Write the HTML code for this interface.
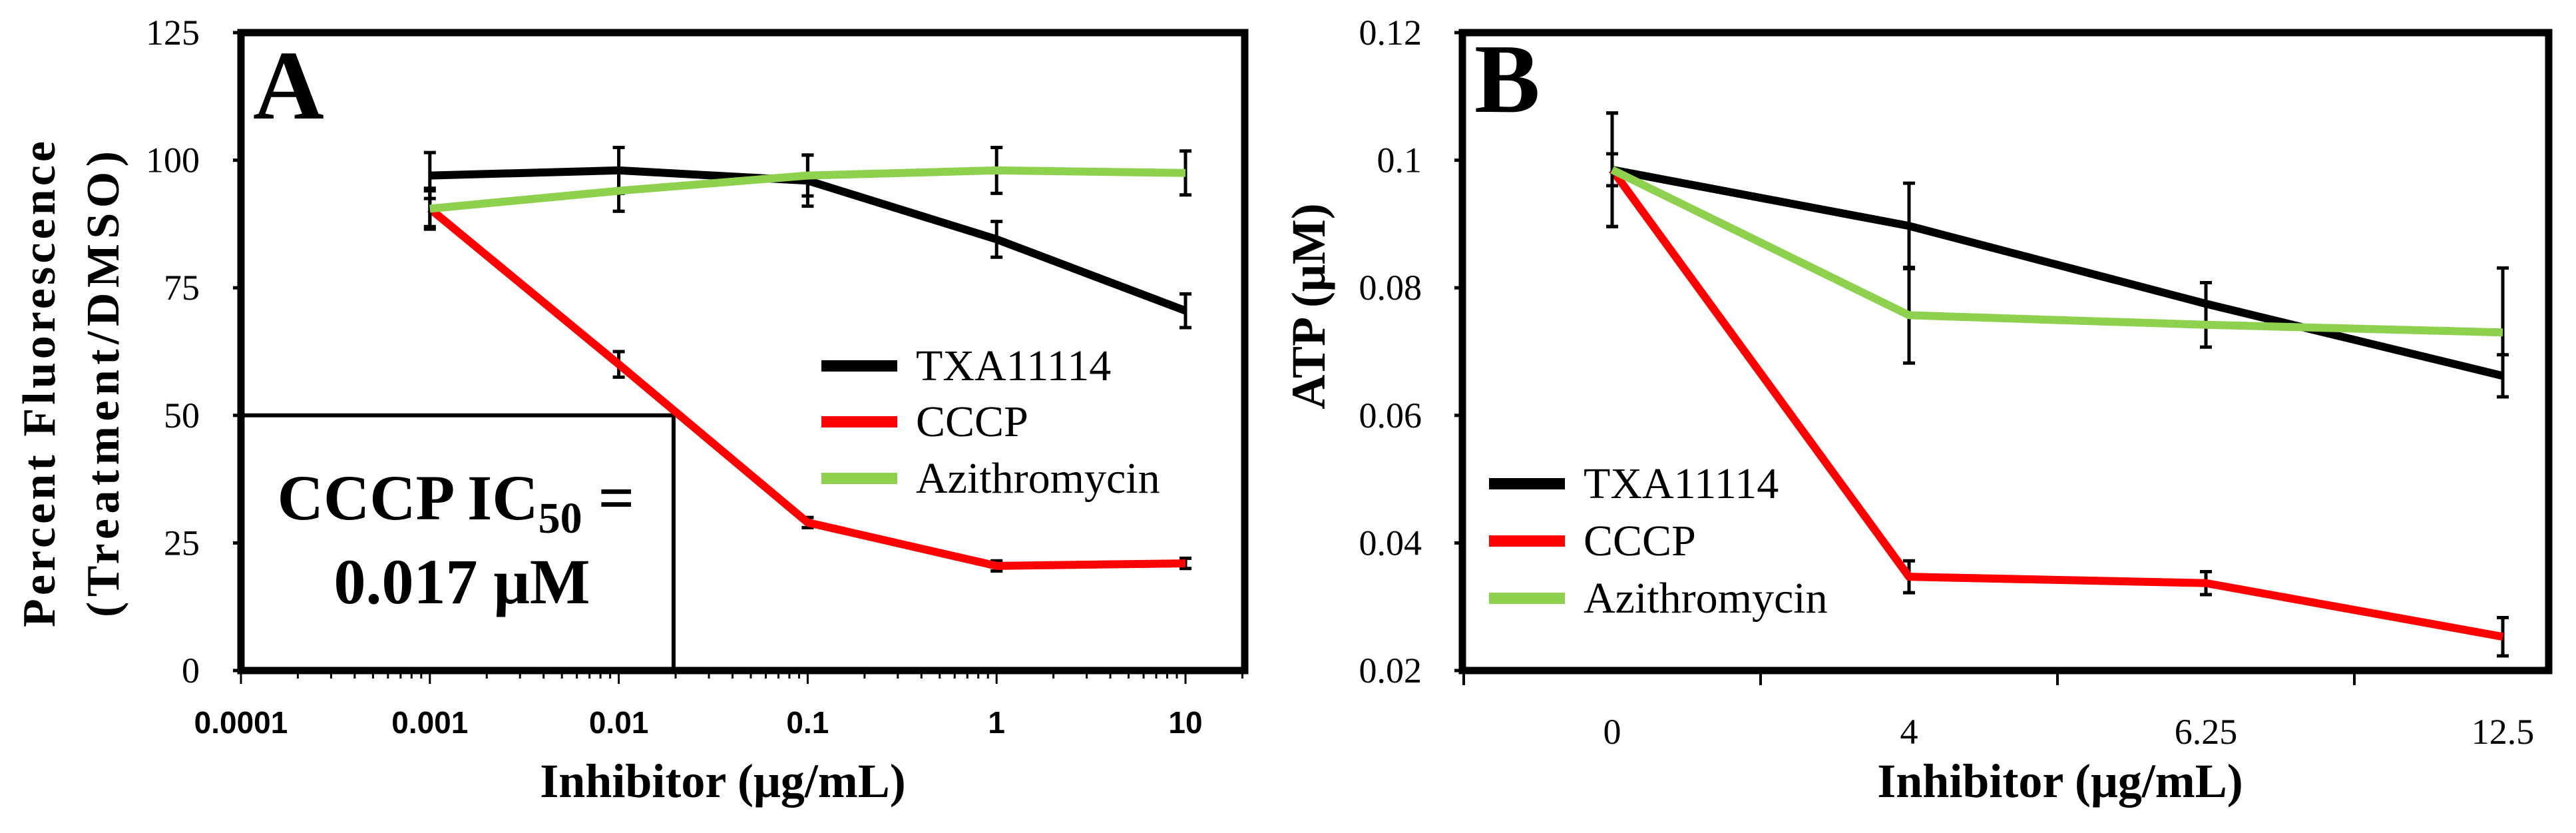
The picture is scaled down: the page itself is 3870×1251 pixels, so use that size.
<!DOCTYPE html>
<html><head><meta charset="utf-8"><style>
html,body{margin:0;padding:0;background:#fff;}
svg{display:block;}
.serif{font-family:"Liberation Serif",serif;}
.sans{font-family:"Liberation Sans",sans-serif;}
</style></head><body>
<svg id="fig" width="3870" height="1251" viewBox="0 0 3870 1251" xmlns="http://www.w3.org/2000/svg">
<g id="gA"></g>
<g id="gB"></g>
</svg>
<script>
// Panel A data
const aX = [0.001, 0.01, 0.1, 1, 10];
const aTXA = [97, 98, 96, 84.5, 70.5];
const aTXAerr = [4.5, 4.5, 5, 3.5, 3.3];
const aCCCP = [90.5, 60, 29, 20.5, 21];
const aCCCPerr = [3.5, 2.5, 1, 1, 1];
const aAzi = [90.5, 94, 97, 98, 97.5];
const aAzierr = [4, 4, 4, 4.5, 4.3];
const aYTicks = [0, 25, 50, 75, 100, 125];
const aXTicks = ["0.0001", "0.001", "0.01", "0.1", "1", "10"];
// Panel B data
const bCats = ["0", "4", "6.25", "12.5"];
const bTXA = [0.0985, 0.0897, 0.0775, 0.0662];
const bTXAerr = [0.0089, 0.0067, 0.0033, 0.0033];
const bCCCP = [0.0985, 0.0347, 0.0337, 0.0253];
const bCCCPerr = [0.0025, 0.0025, 0.0018, 0.003];
const bAzi = [0.0985, 0.0757, 0.0742, 0.073];
const bAzierr = [0.0089, 0.0075, 0.0035, 0.0101];
const bYTicks = ["0.02", "0.04", "0.06", "0.08", "0.1", "0.12"];

const NS = "http://www.w3.org/2000/svg";
function mk(parent, tag, attrs, text) {
  const e = document.createElementNS(NS, tag);
  for (const k in attrs) e.setAttribute(k, attrs[k]);
  if (text !== undefined) e.textContent = text;
  parent.appendChild(e);
  return e;
}
const COL = { txa: "#000000", cccp: "#ff0000", azi: "#8ed14f" };

// ---------- Panel A ----------
const gA = document.getElementById("gA");
const AL = 362, AR = 1870, AT = 49, AB = 1007;
const ax = v => AL + (Math.log10(v) + 4) * 283.8;
const ay = v => AB - v * (AB - AT) / 125;

// IC50 box
let e = mk(gA, "polyline", { points: `${AL},${ay(50)} ${ax(0.0195)},${ay(50)} ${ax(0.0195)},${AB}`, fill: "none", stroke: "#000", "stroke-width": 6 });


e = mk(gA, "text", { x: 685, y: 780, "text-anchor": "middle", class: "serif", "font-size": 96, "font-weight": "bold" });


e.innerHTML = 'CCCP IC<tspan font-size="66" dy="20">50</tspan><tspan dy="-20"> =</tspan>';
e = mk(gA, "text", { x: 694, y: 906, "text-anchor": "middle", class: "serif", "font-size": 96, "font-weight": "bold" }, "0.017 μM");



// y ticks
aYTicks.forEach(t => {
  const l = mk(gA, "line", { x1: AL - 12, x2: AL, y1: ay(t), y2: ay(t), stroke: "#000", "stroke-width": 5 });
  
  
  const tx = mk(gA, "text", { x: 300, y: ay(t) + 18, "text-anchor": "end", class: "serif", "font-size": 54 }, String(t));
  
  
});
// x ticks (log)
for (let d = -4; d <= 1; d++) {
  for (let m = 1; m <= 9; m++) {
    const v = m * Math.pow(10, d);
    if (ax(v) > AR) break;
    const l = mk(gA, "line", { x1: ax(v), x2: ax(v), y1: AB, y2: AB + (m === 1 ? 20 : 12), stroke: "#000", "stroke-width": 3 });
    
    
  }
}
aXTicks.forEach(t => {
  const tx = mk(gA, "text", { x: ax(parseFloat(t)), y: 1101, "text-anchor": "middle", class: "sans", "font-size": 46, "font-weight": "bold" }, t);
  
  
});

function series(g, xs, ys, errs, xf, yf, col, name, capw) {
  errs.forEach((er, i) => {
    const x = xf(xs[i]);
    const eb = mk(g, "path", { d: `M${x},${yf(ys[i] + er)}V${yf(ys[i] - er)}M${x - capw},${yf(ys[i] + er)}h${2 * capw}M${x - capw},${yf(ys[i] - er)}h${2 * capw}`, stroke: "#000", "stroke-width": 5, fill: "none" });
    
    
  });
  const pts = ys.map((v, i) => `${xf(xs[i])},${yf(v)}`).join(" ");
  const pl = mk(g, "polyline", { points: pts, fill: "none", stroke: col, "stroke-width": 12, "stroke-linejoin": "round" });
  
  
}
series(gA, aX, aTXA, aTXAerr, ax, ay, COL.txa, "txa11114", 9);
series(gA, aX, aCCCP, aCCCPerr, ax, ay, COL.cccp, "cccp", 9);
series(gA, aX, aAzi, aAzierr, ax, ay, COL.azi, "azithromycin", 9);

e = mk(gA, "rect", { x: AL, y: AT, width: AR - AL, height: AB - AT, fill: "none", stroke: "#000", "stroke-width": 11 });


e = mk(gA, "text", { x: 380, y: 178, class: "serif", "font-size": 148, "font-weight": "bold" }, "A");



function legend(g, lx, tx, ysArr, pfx) {
  const names = ["TXA11114", "CCCP", "Azithromycin"];
  const cols = [COL.txa, COL.cccp, COL.azi];
  names.forEach((n, i) => {
    const gi = mk(g, "g", {});
    
    
    mk(gi, "rect", { x: lx, y: ysArr[i] - 8, width: 114, height: 17, fill: cols[i] });
    mk(gi, "text", { x: tx, y: ysArr[i] + 22, class: "serif", "font-size": 66 }, n);
  });
}
legend(gA, 1234, 1376, [549, 633, 718]);

e = mk(gA, "text", { x: 1086, y: 1197, "text-anchor": "middle", class: "serif", "font-size": 72, "font-weight": "bold" }, "Inhibitor (μg/mL)");


e = mk(gA, "text", { transform: "translate(82,577) rotate(-90)", "text-anchor": "middle", class: "serif", "font-size": 70, "font-weight": "bold", textLength: 730, lengthAdjust: "spacing" }, "Percent Fluorescence");


e = mk(gA, "text", { transform: "translate(178,577) rotate(-90)", "text-anchor": "middle", class: "serif", "font-size": 70, "font-weight": "bold", textLength: 700, lengthAdjust: "spacing" }, "(Treatment/DMSO)");



// ---------- Panel B ----------
const gB = document.getElementById("gB");
const BL = 2197, BR = 3829, BT = 49, BB = 1007;
const bx = i => 2422 + 446 * i;
const by = v => BB - (v - 0.02) * (BB - BT) / 0.1;
const bIdx = bCats.map((c, i) => i);

bYTicks.forEach(t => {
  const v = parseFloat(t);
  const l = mk(gB, "line", { x1: BL - 12, x2: BL, y1: by(v), y2: by(v), stroke: "#000", "stroke-width": 5 });
  
  
  const tx = mk(gB, "text", { x: 2136, y: by(v) + 18, "text-anchor": "end", class: "serif", "font-size": 54 }, t);
  
  
});
for (let i = 0; i <= bCats.length; i++) {
  const x = bx(i) - 223;
  if (x > BR) break;
  const l = mk(gB, "line", { x1: x, x2: x, y1: BB, y2: BB + 22, stroke: "#000", "stroke-width": 4 });
  
  
}
bCats.forEach((c, i) => {
  const tx = mk(gB, "text", { x: bx(i), y: 1117, "text-anchor": "middle", class: "serif", "font-size": 54 }, c);
  
  
});
series(gB, bIdx, bTXA, bTXAerr, bx, by, COL.txa, "txa11114", 9);
series(gB, bIdx, bCCCP, bCCCPerr, bx, by, COL.cccp, "cccp", 9);
series(gB, bIdx, bAzi, bAzierr, bx, by, COL.azi, "azithromycin", 9);

e = mk(gB, "rect", { x: BL, y: BT, width: BR - BL, height: BB - BT, fill: "none", stroke: "#000", "stroke-width": 11 });


e = mk(gB, "text", { x: 2215, y: 168, class: "serif", "font-size": 148, "font-weight": "bold" }, "B");


legend(gB, 2237, 2379, [726, 812, 898]);
e = mk(gB, "text", { x: 3095, y: 1197, "text-anchor": "middle", class: "serif", "font-size": 72, "font-weight": "bold" }, "Inhibitor (μg/mL)");


e = mk(gB, "text", { transform: "translate(1990,460) rotate(-90)", "text-anchor": "middle", class: "serif", "font-size": 72, "font-weight": "bold" }, "ATP (μM)");


</script>
</body></html>
